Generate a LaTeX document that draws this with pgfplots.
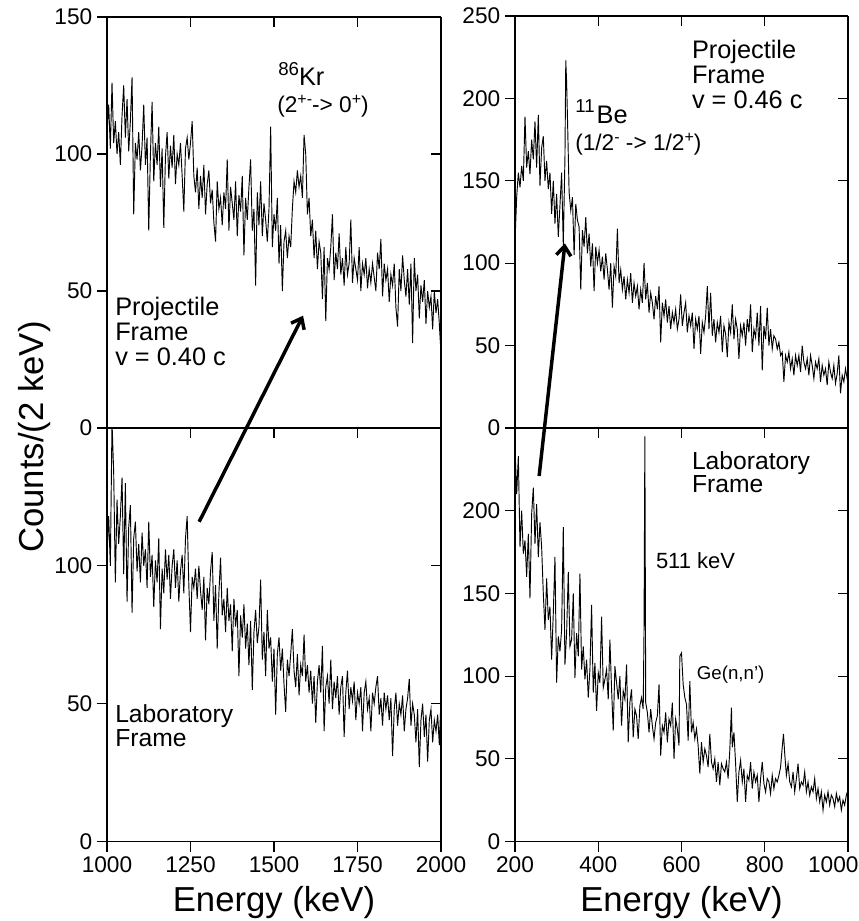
\documentclass[border=0pt]{standalone}
\usepackage{pgfplots}
\pgfplotsset{compat=1.18}
\usepackage{pgfplotstable}
\usepackage{fontspec}
\setmainfont{Liberation Sans}
\usetikzlibrary{arrows.meta}

\pgfplotstableread[row sep=\\]{
x y\\
1000 108\\1005 118\\1010 102\\1015 126\\1020 104\\1025 112\\1030 100\\1035 108\\1040 96\\1045 114\\
1050 125\\1055 106\\1060 120\\1065 101\\1070 112\\1075 128\\1080 78\\1085 104\\1090 98\\1095 108\\
1100 94\\1105 103\\1110 118\\1115 96\\1120 106\\1125 72\\1130 100\\1135 119\\1140 90\\1145 104\\
1150 96\\1155 110\\1160 88\\1165 102\\1170 73\\1175 99\\1180 108\\1185 91\\1190 103\\1195 95\\
1200 107\\1205 89\\1210 100\\1215 96\\1220 104\\1225 92\\1230 79\\1235 102\\1240 106\\1245 98\\
1250 104\\1255 112\\1260 92\\1265 86\\1270 95\\1275 80\\1280 92\\1285 84\\1290 96\\1295 78\\
1300 89\\1305 94\\1310 82\\1315 87\\1320 75\\1325 68\\1330 90\\1335 80\\1340 84\\1345 74\\
1350 86\\1355 80\\1360 98\\1365 72\\1370 88\\1375 82\\1380 76\\1385 90\\1390 70\\1395 85\\
1400 79\\1405 92\\1410 63\\1415 84\\1420 76\\1425 88\\1430 98\\1435 72\\1440 80\\1445 52\\
1450 86\\1455 74\\1460 90\\1465 70\\1470 82\\1475 76\\1480 68\\1485 80\\1490 110\\1495 66\\
1500 78\\1505 72\\1510 84\\1515 60\\1520 74\\1525 50\\1530 68\\1535 72\\1540 62\\1545 70\\
1550 66\\1555 80\\1560 90\\1565 86\\1570 94\\1575 88\\1580 92\\1585 84\\1590 107\\1595 100\\
1600 78\\1605 84\\1610 70\\1615 76\\1620 62\\1625 72\\1630 58\\1635 68\\1640 64\\1645 47\\
1650 66\\1655 39\\1660 62\\1665 58\\1670 66\\1675 78\\1680 54\\1685 64\\1690 58\\1695 71\\
1700 56\\1705 62\\1710 52\\1715 66\\1720 56\\1725 60\\1730 76\\1735 53\\1740 62\\1745 58\\
1750 54\\1755 66\\1760 50\\1765 60\\1770 56\\1775 62\\1780 51\\1785 58\\1790 53\\1795 60\\
1800 55\\1805 50\\1810 64\\1815 58\\1820 69\\1825 48\\1830 60\\1835 54\\1840 58\\1845 46\\
1850 56\\1855 52\\1860 60\\1865 44\\1870 37\\1875 58\\1880 50\\1885 63\\1890 54\\1895 48\\
1900 58\\1905 45\\1910 60\\1915 31\\1920 62\\1925 50\\1930 56\\1935 40\\1940 52\\1945 46\\
1950 54\\1955 38\\1960 50\\1965 44\\1970 48\\1975 36\\1980 50\\1985 42\\1990 47\\1995 38\\
2000 27\\
}\dataTL

\pgfplotstableread[row sep=\\]{
x y\\
1000 104\\1005 118\\1010 100\\1015 152\\1020 134\\1025 94\\1030 124\\1035 108\\1040 118\\1045 132\\
1050 97\\1055 130\\1060 87\\1065 114\\1070 122\\1075 83\\1080 110\\1085 116\\1090 98\\1095 108\\
1100 94\\1105 112\\1110 100\\1115 106\\1120 92\\1125 116\\1130 96\\1135 104\\1140 85\\1145 102\\
1150 94\\1155 110\\1160 77\\1165 99\\1170 90\\1175 106\\1180 95\\1185 104\\1190 88\\1195 100\\
1200 106\\1205 92\\1210 102\\1215 87\\1220 98\\1225 104\\1230 90\\1235 110\\1240 118\\1245 93\\
1250 76\\1255 96\\1260 92\\1265 99\\1270 88\\1275 100\\1280 91\\1285 84\\1290 96\\1295 73\\
1300 92\\1305 86\\1310 98\\1315 105\\1320 80\\1325 93\\1330 70\\1335 90\\1340 103\\1345 82\\
1350 88\\1355 76\\1360 92\\1365 80\\1370 86\\1375 69\\1380 88\\1385 78\\1390 84\\1395 60\\
1400 82\\1405 74\\1410 86\\1415 70\\1420 79\\1425 64\\1430 80\\1435 55\\1440 76\\1445 84\\
1450 72\\1455 78\\1460 95\\1465 66\\1470 76\\1475 60\\1480 84\\1485 70\\1490 74\\1495 58\\
1500 70\\1505 46\\1510 68\\1515 74\\1520 62\\1525 70\\1530 57\\1535 47\\1540 66\\1545 60\\
1550 68\\1555 77\\1560 62\\1565 56\\1570 68\\1575 53\\1580 64\\1585 60\\1590 75\\1595 58\\
1600 64\\1605 54\\1610 62\\1615 50\\1620 60\\1625 43\\1630 58\\1635 64\\1640 54\\1645 71\\
1650 40\\1655 56\\1660 60\\1665 50\\1670 66\\1675 48\\1680 58\\1685 52\\1690 60\\1695 46\\
1700 56\\1705 60\\1710 38\\1715 54\\1720 62\\1725 48\\1730 56\\1735 51\\1740 58\\1745 44\\
1750 54\\1755 50\\1760 56\\1765 40\\1770 54\\1775 58\\1780 48\\1785 52\\1790 40\\1795 54\\
1800 50\\1805 56\\1810 60\\1815 46\\1820 52\\1825 42\\1830 54\\1835 48\\1840 53\\1845 44\\
1850 52\\1855 31\\1860 48\\1865 54\\1870 42\\1875 50\\1880 46\\1885 53\\1890 40\\1895 48\\
1900 52\\1905 59\\1910 42\\1915 50\\1920 46\\1925 36\\1930 48\\1935 27\\1940 44\\1945 50\\
1950 38\\1955 46\\1960 29\\1965 44\\1970 48\\1975 36\\1980 44\\1985 40\\1990 46\\1995 35\\
2000 52\\
}\dataBL

\pgfplotstableread[row sep=\\]{
x y\\
200 113\\204 140\\208 155\\212 146\\216 159\\220 150\\224 189\\228 158\\232 168\\236 154\\
240 175\\244 163\\248 186\\252 158\\256 190\\260 147\\264 170\\268 177\\272 150\\276 162\\
280 145\\284 155\\288 130\\292 150\\296 124\\300 142\\304 116\\308 135\\312 155\\316 111\\
320 164\\322 223\\324 210\\326 189\\330 143\\334 132\\338 140\\342 105\\346 136\\350 126\\
354 122\\358 84\\362 120\\366 110\\370 128\\374 106\\378 118\\382 98\\386 112\\390 83\\
394 110\\398 100\\402 108\\406 95\\410 104\\414 90\\418 106\\422 96\\426 84\\430 100\\
434 73\\438 98\\442 92\\446 121\\450 88\\454 96\\458 84\\462 92\\466 78\\470 90\\
474 82\\478 94\\482 76\\486 88\\490 80\\494 86\\498 72\\502 84\\506 76\\510 100\\
514 78\\518 88\\522 70\\526 82\\530 76\\534 66\\538 80\\542 72\\546 86\\550 52\\
554 76\\558 68\\562 78\\566 64\\570 74\\574 60\\578 70\\582 64\\586 72\\590 60\\
594 66\\598 81\\602 62\\606 70\\610 76\\614 58\\618 68\\622 62\\626 70\\630 48\\
634 66\\638 60\\642 68\\646 45\\650 64\\654 58\\658 68\\662 86\\666 60\\670 82\\
674 56\\678 66\\682 52\\686 64\\690 58\\694 68\\698 46\\702 62\\706 57\\710 43\\
714 64\\718 58\\722 75\\726 54\\730 66\\734 60\\738 42\\742 62\\746 56\\750 64\\
754 50\\758 66\\762 58\\766 75\\770 46\\774 60\\778 55\\782 70\\786 50\\790 74\\
794 35\\798 62\\802 54\\806 73\\810 50\\814 60\\818 48\\822 56\\826 54\\830 48\\
834 52\\838 44\\842 46\\846 28\\850 44\\854 40\\858 46\\862 36\\866 42\\870 32\\
874 44\\878 38\\882 44\\886 34\\890 50\\894 40\\898 36\\902 42\\906 32\\910 44\\
914 38\\918 30\\922 40\\926 36\\930 42\\934 28\\938 38\\942 32\\946 36\\950 26\\
954 40\\958 34\\962 30\\966 38\\970 27\\974 33\\978 44\\982 21\\986 32\\990 28\\
994 36\\998 30\\1000 34\\
}\dataTR

\pgfplotstableread[row sep=\\]{
x y\\
200 238\\204 210\\208 233\\212 178\\216 200\\220 174\\224 182\\228 160\\232 186\\236 147\\
240 198\\244 214\\248 180\\252 204\\256 172\\260 193\\264 178\\268 150\\272 128\\276 159\\
280 134\\284 142\\288 110\\292 138\\296 172\\300 96\\304 124\\308 115\\312 128\\316 190\\
320 107\\324 126\\328 163\\332 118\\336 122\\340 150\\344 99\\348 126\\352 112\\356 162\\
360 104\\364 118\\368 98\\372 110\\376 87\\380 104\\384 143\\388 90\\392 108\\396 79\\
400 102\\404 96\\408 136\\412 93\\416 98\\420 104\\424 86\\428 122\\432 92\\436 67\\
440 106\\444 96\\448 86\\452 100\\456 70\\460 91\\464 86\\468 107\\472 60\\476 84\\
480 92\\484 63\\488 80\\492 76\\496 62\\500 82\\504 87\\508 80\\510 128\\512 245\\
514 84\\518 78\\522 66\\526 80\\530 70\\534 62\\538 72\\542 76\\546 95\\550 52\\
554 70\\558 66\\562 78\\566 60\\570 74\\574 70\\578 84\\582 50\\586 74\\590 68\\
594 58\\596 112\\600 114\\604 95\\608 87\\612 83\\616 61\\620 97\\624 66\\628 72\\
632 62\\636 68\\640 58\\644 41\\648 60\\652 48\\656 56\\660 52\\664 45\\668 65\\
672 48\\676 44\\680 50\\684 36\\688 48\\692 34\\696 47\\700 44\\704 42\\708 48\\
712 38\\716 55\\720 81\\722 57\\726 66\\730 47\\734 24\\738 42\\742 49\\746 36\\
750 44\\754 24\\758 40\\762 37\\766 48\\770 32\\774 42\\778 36\\782 40\\786 24\\
790 38\\794 48\\798 35\\802 30\\806 38\\810 36\\814 29\\818 40\\822 32\\826 38\\
830 36\\834 40\\838 45\\842 57\\845 65\\848 53\\852 40\\856 47\\860 36\\864 33\\
868 42\\872 30\\876 38\\880 47\\884 32\\888 36\\892 34\\896 42\\900 30\\904 36\\
908 28\\912 33\\916 30\\920 38\\924 26\\928 32\\932 24\\936 30\\940 19\\944 28\\
948 24\\952 30\\956 22\\960 28\\964 26\\968 21\\972 29\\976 24\\980 27\\984 19\\
988 25\\992 22\\996 28\\1000 31\\
}\dataBR

\pgfplotsset{
  panel/.style={scale only axis, clip=true,
    /pgf/number format/assume math mode=true,
    /pgf/number format/1000 sep={},
    tick label style={font=\fontsize{17}{17}\selectfont, black},
    major tick length=7.5pt,
    tick style={black, line width=0.8pt},
    axis line style={-, black, line width=0.8pt},
    minor tick num=0},
  outer/.style={axis x line*=bottom, axis y line*=left, tick align=outside},
  inner/.style={axis x line*=top, axis y line*=right, tick align=inside,
    xticklabels={}, yticklabels={}},
  spec/.style={black, line width=0.7pt, sharp plot, mark=none},
  TLpos/.style={at={(80.25pt,369.75pt)}, anchor=south west, width=250.5pt, height=308.25pt,
    xmin=1000, xmax=2000, ymin=0, ymax=150, xtick={1000,1250,...,2000}, ytick={0,50,100,150}},
  BLpos/.style={at={(80.25pt,59.625pt)}, anchor=south west, width=250.5pt, height=310.125pt,
    xmin=1000, xmax=2000, ymin=0, ymax=150, xtick={1000,1250,...,2000}, ytick={0,50,100}},
  TRpos/.style={at={(386.25pt,369.75pt)}, anchor=south west, width=249.75pt, height=309pt,
    xmin=200, xmax=1000, ymin=0, ymax=250, xtick={200,400,...,1000}, ytick={0,50,...,250}},
  BRpos/.style={at={(386.25pt,59.625pt)}, anchor=south west, width=249.75pt, height=310.125pt,
    xmin=200, xmax=1000, ymin=0, ymax=250, xtick={200,400,...,1000}, ytick={0,50,...,200}},
}

\newcommand{\bigtxt}{\fontsize{19}{19}\selectfont}
\newcommand{\labtxt}{\fontsize{18.5}{18.5}\selectfont}
\newcommand{\stack}[2]{\vbox{\baselineskip=#1\lineskiplimit=-30pt\lineskip=0pt #2}}

\begin{document}
\begin{tikzpicture}
% ---------- top left
\begin{axis}[panel, outer, TLpos, xticklabels={}]
  \addplot[spec] table {\dataTL};
  \coordinate (TLend) at (axis cs:1587,41);
\end{axis}
\begin{axis}[panel, inner, TLpos]
\end{axis}
% ---------- bottom left
\begin{axis}[panel, outer, BLpos]
  \addplot[spec] table {\dataBL};
  \coordinate (BLstart) at (axis cs:1276,116);
\end{axis}
\begin{axis}[panel, inner, BLpos]
\end{axis}
% ---------- top right
\begin{axis}[panel, outer, TRpos, xticklabels={}]
  \addplot[spec] table {\dataTR};
  \coordinate (TRend) at (axis cs:320,112);
\end{axis}
\begin{axis}[panel, inner, TRpos]
\end{axis}
% ---------- bottom right
\begin{axis}[panel, outer, BRpos, xticklabels={200,400,600,800,\hspace*{-22pt}1000}]
  \addplot[spec] table {\dataBR};
  \coordinate (BRstart) at (axis cs:258,221);
\end{axis}
\begin{axis}[panel, inner, BRpos]
\end{axis}

% arrows
\draw[line width=2.6pt, -{Straight Barb[length=7pt,width=11pt]}] (BLstart) -- (TLend);
\draw[line width=2.6pt, -{Straight Barb[length=7pt,width=11pt]}] (BRstart) -- (TRend);

% axis titles
\node[rotate=90, anchor=base, font=\fontsize{26}{26}\selectfont] at (32.25pt,363pt) {Counts/(2 keV)};
\node[anchor=base, font=\fontsize{26}{26}\selectfont] at (205.5pt,7pt) {Energy (keV)};
\node[anchor=base, font=\fontsize{26}{26}\selectfont] at (511.1pt,7pt) {Energy (keV)};

% top-left annotations
\node[anchor=base west, inner sep=0pt, font=\bigtxt] at (86.25pt,416.25pt)
  {\stack{19pt}{\hbox{Projectile}\hbox{Frame}\hbox{v = 0.40 c}}};
\node[anchor=base west, inner sep=0pt] at (208.5pt,626.25pt)
  {\raisebox{7.5pt}{\fontsize{14}{14}\selectfont 86}\fontsize{19}{19}\selectfont Kr};
\node[anchor=base west, inner sep=0pt] at (207.75pt,606pt)
  {\fontsize{17}{17}\selectfont (2\raisebox{6pt}{\fontsize{12}{12}\selectfont +-}-> 0\raisebox{6pt}{\fontsize{12}{12}\selectfont +})};

% top-right annotations
\node[anchor=base west, inner sep=0pt, font=\bigtxt] at (518.8pt,609.5pt)
  {\stack{18.75pt}{\hbox{Projectile}\hbox{Frame}\hbox{v = 0.46 c}}};
\node[anchor=base west, inner sep=0pt] at (431.25pt,597.75pt)
  {\raisebox{8.25pt}{\fontsize{14}{14}\selectfont 11}\hspace{1.5pt}\fontsize{19}{19}\selectfont Be};
\node[anchor=base west, inner sep=0pt] at (431.25pt,577.9pt)
  {\fontsize{17}{17}\selectfont (1/2\raisebox{6pt}{\fontsize{12}{12}\selectfont -} -> 1/2\raisebox{6pt}{\fontsize{12}{12}\selectfont +})};

% bottom-left annotations
\node[anchor=base west, inner sep=0pt, font=\labtxt] at (86.25pt,131pt)
  {\stack{17.5pt}{\hbox{Laboratory}\hbox{Frame}}};

% bottom-right annotations
\node[anchor=base west, inner sep=0pt, font=\labtxt] at (518.8pt,321pt)
  {\stack{17.5pt}{\hbox{Laboratory}\hbox{Frame}}};
\node[anchor=base west, inner sep=0pt, font=\fontsize{16.5}{16.5}\selectfont] at (491.8pt,264.5pt) {511 keV};
\node[anchor=base west, inner sep=0pt, font=\fontsize{14}{14}\selectfont] at (522.5pt,180.75pt) {Ge(n,n')};

\pgfresetboundingbox
\path[use as bounding box] (0,0) rectangle (644.25pt,690.75pt);
\end{tikzpicture}
\end{document}
